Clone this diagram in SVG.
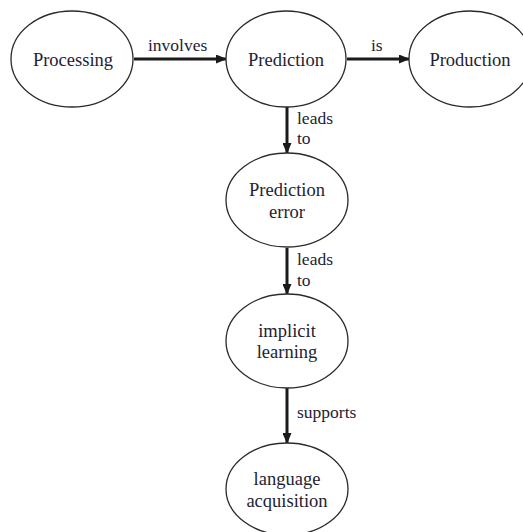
<svg xmlns="http://www.w3.org/2000/svg" width="523" height="532" viewBox="0 0 523 532">
<style>
.n{fill:#fff;stroke:#2a2a2a;stroke-width:1.3}
.t{font-family:"Liberation Serif","Times New Roman",serif;font-size:18.5px;fill:#1e2233;text-anchor:middle}
.l{font-family:"Liberation Serif","Times New Roman",serif;font-size:17.5px;fill:#1e2233}
.c{stroke:#1a1a1a;stroke-width:3;fill:none}
</style>
<defs>
<marker id="ah" markerWidth="11" markerHeight="9" refX="10" refY="4.5" orient="auto" markerUnits="userSpaceOnUse">
<path d="M0,0 L11,4.5 L0,9 Z" fill="#1a1a1a"/>
</marker>
</defs>
<rect width="523" height="532" fill="#fff"/>
<g id="connectors">
<line class="c" x1="134" y1="59" x2="226" y2="59" marker-end="url(#ah)"/>
<text class="l" x="148" y="51">involves</text>
<line class="c" x1="347" y1="59" x2="409" y2="59" marker-end="url(#ah)"/>
<text class="l" x="371" y="51">is</text>
<line class="c" x1="287" y1="107" x2="287" y2="153" marker-end="url(#ah)"/>
<text class="l" x="297" y="124">leads</text>
<text class="l" x="297" y="144">to</text>
<line class="c" x1="287" y1="248" x2="287" y2="294" marker-end="url(#ah)"/>
<text class="l" x="297" y="265">leads</text>
<text class="l" x="297" y="286">to</text>
<line class="c" x1="287" y1="388" x2="287" y2="443" marker-end="url(#ah)"/>
<text class="l" x="297" y="418">supports</text>
</g>
<g id="processing">
<ellipse class="n" cx="72" cy="59" rx="61" ry="48"/>
<text class="t" x="73" y="66">Processing</text>
</g>
<g id="prediction">
<ellipse class="n" cx="286" cy="59" rx="60" ry="48"/>
<text class="t" x="286" y="66">Prediction</text>
</g>
<g id="production">
<ellipse class="n" cx="470" cy="59" rx="61" ry="48"/>
<text class="t" x="470" y="66">Production</text>
</g>
<g id="prediction-error">
<ellipse class="n" cx="287" cy="200" rx="61" ry="47"/>
<text class="t" x="287" y="196">Prediction</text>
<text class="t" x="287" y="218">error</text>
</g>
<g id="implicit-learning">
<ellipse class="n" cx="287" cy="341" rx="61" ry="47"/>
<text class="t" x="287" y="337">implicit</text>
<text class="t" x="287" y="358">learning</text>
</g>
<g id="language-acquisition">
<ellipse class="n" cx="287" cy="489" rx="61" ry="46"/>
<text class="t" x="287" y="485">language</text>
<text class="t" x="287" y="507">acquisition</text>
</g>
</svg>
